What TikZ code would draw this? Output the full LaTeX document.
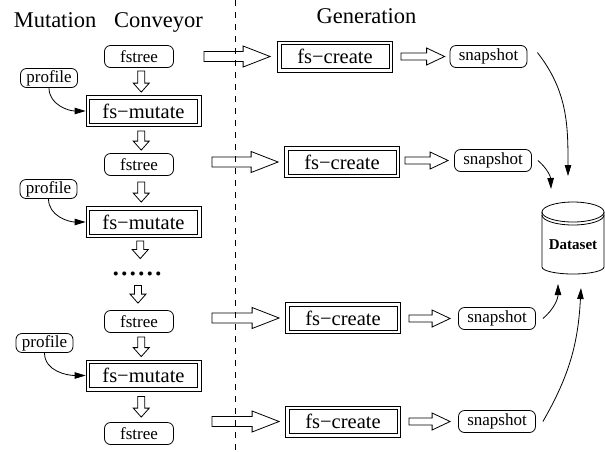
\documentclass[tikz,border=0pt]{standalone}
\usepackage{fontspec}
\setmainfont{Liberation Serif}
\usetikzlibrary{arrows.meta}
\usetikzlibrary{calc}

\tikzset{
  heading/.style={anchor=base, font=\fontsize{22.5}{27}\selectfont},
  rbox/.style={draw, rounded corners=6pt, minimum height=22pt, inner sep=0pt,
    font=\fontsize{17}{20}\selectfont},
  dbox/.style={draw, minimum width=115pt, minimum height=31pt, inner sep=0pt,
    font=\fontsize{20.5}{24}\selectfont,
    path picture={\draw ([shift={(3.4pt,3.4pt)}]path picture bounding box.south west)
      rectangle ([shift={(-3.4pt,-3.4pt)}]path picture bounding box.north east);}},
  hollowright/.style n args={3}{to path={let \p1=(\tikztostart), \p2=(\tikztotarget) in
    (\x1,\y2+#1) -- (\x2-#3,\y2+#1) -- (\x2-#3,\y2+#2) -- (\x2,\y2)
    -- (\x2-#3,\y2-#2) -- (\x2-#3,\y2-#1) -- (\x1,\y2-#1) -- cycle}},
  bigarrow/.style={hollowright={5pt}{10.5pt}{27pt}},
  smallarrow/.style={hollowright={3.5pt}{8.5pt}{18pt}},
  downarrow/.style={to path={let \p1=(\tikztostart), \p2=(\tikztotarget),
    \p3=($(\p1)!0.5!(\p2)$) in
    (\x3-3.5pt,\y1) -- (\x3-3.5pt,\y2+9pt) -- (\x3-8pt,\y2+9pt) -- (\x3,\y2)
    -- (\x3+8pt,\y2+9pt) -- (\x3+3.5pt,\y2+9pt) -- (\x3+3.5pt,\y1) -- cycle}},
  feed/.style={-{Triangle[length=11pt,width=6.5pt]}},
}

\begin{document}
\begin{tikzpicture}[x=1pt,y=-1pt,line width=0.8pt]
  \useasboundingbox (0,0) rectangle (605,451);
  \node[heading] (mutlbl) at (55,27) {Mutation};
  \node[heading] (convlbl) at (158.5,27) {Conveyor};
  \node[heading] (genlbl) at (366.5,23) {Generation};
  \draw[dash pattern=on 6pt off 6pt] (235,0) -- (235,451);

  % conveyor column
  \node[rbox, minimum width=69pt] (tree1) at (139,56.5) {fstree};
  \node[dbox] (mutate1) at (143.5,111) {fs−mutate};
  \node[rbox, minimum width=69pt] (tree2) at (139,164.5) {fstree};
  \node[dbox] (mutate2) at (143.5,222) {fs−mutate};
  \node[inner sep=0pt, font=\fontsize{34}{34}\selectfont] (dots) at (137,274) {......};
  \node[rbox, minimum width=69pt] (tree3) at (139,321.5) {fstree};
  \node[dbox] (mutate3) at (143.5,375.5) {fs−mutate};
  \node[rbox, minimum width=69pt] (tree4) at (139,433.5) {fstree};

  \node[rbox, minimum width=57pt, minimum height=19pt] (prof1) at (49,78) {profile};
  \node[rbox, minimum width=57pt, minimum height=19pt] (prof2) at (48.5,189) {profile};
  \node[rbox, minimum width=57pt, minimum height=19pt] (prof3) at (44.5,343) {profile};

  \draw[downarrow] ([yshift=-3pt]tree1.south) to ([yshift=3pt]mutate1.north);
  \draw[downarrow] ([yshift=-4pt]mutate1.south) to ([yshift=3pt]tree2.north);
  \draw[downarrow] ([yshift=-6pt]tree2.south) to ([yshift=4pt]mutate2.north);
  \draw[downarrow] ([yshift=-3pt]mutate2.south) to ([yshift=13pt]dots.north);
  \draw[downarrow] ([yshift=-9pt]dots.south) to ([yshift=7pt]tree3.north);
  \draw[downarrow] ([yshift=-4pt]tree3.south) to ([yshift=3pt]mutate3.north);
  \draw[downarrow] ([yshift=-5pt]mutate3.south) to ([yshift=5pt]tree4.north);

  \draw[feed] (prof1.south) to[out=-90,in=180] (mutate1.west);
  \draw[feed] (prof2.south) to[out=-90,in=180] (mutate2.west);
  \draw[feed] (prof3.south) to[out=-90,in=180] (mutate3.west);

  % generation column
  \node[dbox] (create1) at (335,56.5) {fs−create};
  \node[dbox] (create2) at (342,162) {fs−create};
  \node[dbox] (create3) at (343,318) {fs−create};
  \node[dbox] (create4) at (343,421.5) {fs−create};

  \node[rbox, minimum width=77pt] (snap1) at (488.5,56.5) {snapshot};
  \node[rbox, minimum width=77pt] (snap2) at (493,160.5) {snapshot};
  \node[rbox, minimum width=77pt] (snap3) at (497,318.5) {snapshot};
  \node[rbox, minimum width=77pt] (snap4) at (497,421.5) {snapshot};

  \draw[bigarrow] ([xshift=30pt]tree1.east) to ([xshift=-7pt]create1.west);
  \draw[bigarrow] ([xshift=38pt]tree2.east) to ([xshift=-6pt]create2.west);
  \draw[bigarrow] ([xshift=38pt]tree3.east) to ([xshift=-6pt]create3.west);
  \draw[bigarrow] ([xshift=38pt]tree4.east) to ([xshift=-6pt]create4.west);

  \draw[smallarrow] ([xshift=8pt]create1.east) to ([xshift=-5pt]snap1.west);
  \draw[smallarrow] ([xshift=5pt]create2.east) to ([xshift=-6pt]snap2.west);
  \draw[smallarrow] ([xshift=8pt]create3.east) to ([xshift=-8pt]snap3.west);
  \draw[smallarrow] ([xshift=8pt]create4.east) to ([xshift=-8pt]snap4.west);

  % dataset
  \draw (542,212) -- (542,267) arc[start angle=180, end angle=360, x radius=31pt, y radius=7pt] -- (604,212);
  \draw (573,212) ellipse [x radius=31pt, y radius=10pt];
  \draw (542,215) arc[start angle=180, end angle=360, x radius=31pt, y radius=10pt];
  \node[font=\fontsize{15}{18}\selectfont\bfseries] (dataset) at (573,245) {Dataset};

  \coordinate (in1) at (568,176);
  \coordinate (in2) at (551,189);
  \coordinate (in3) at (558,284);
  \coordinate (in4) at (581,288);
  \draw[feed] ([xshift=10pt,yshift=4pt]snap1.east) to[out=-52,in=90] (in1);
  \draw[feed] ([xshift=6pt]snap2.east) to[out=-40,in=92] (in2);
  \draw[feed] ([xshift=7pt]snap3.east) to[out=40,in=-90] (in3);
  \draw[feed] ([xshift=7pt]snap4.east) to[out=60,in=-93] (in4);
\end{tikzpicture}
\end{document}
